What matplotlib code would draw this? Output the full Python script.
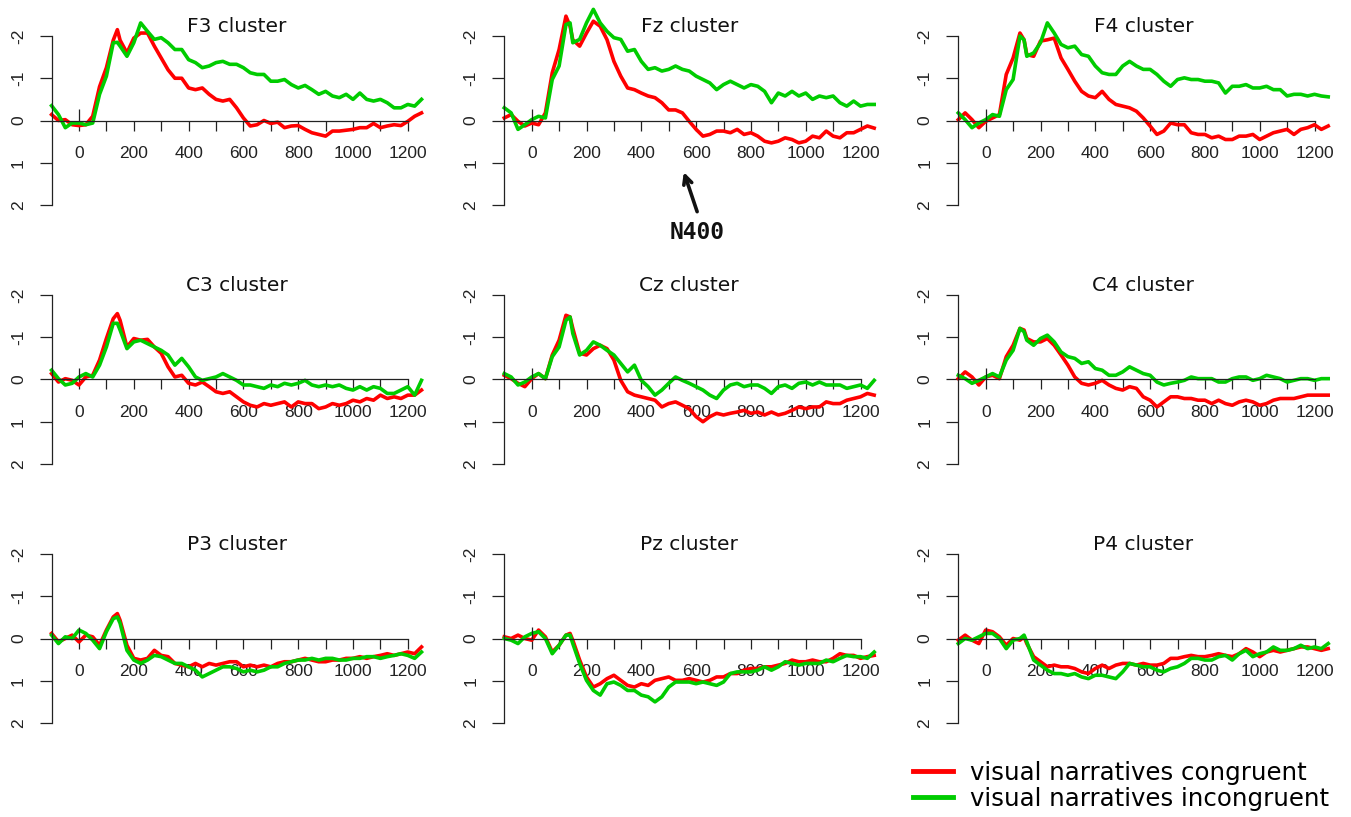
import matplotlib.pyplot as plt
import numpy as np

times = list(range(-100, 126, 25)) + [140] + list(range(150, 1251, 25))

# amplitudes in microvolts (negative plotted up)
f3_con = [-0.14, 0.0, -0.02, 0.1, 0.12, 0.1, -0.1, -0.8, -1.25, -1.9,
          -2.15, -1.9,
          -1.6, -1.95, -2.07, -2.07, -1.76, -1.48, -1.2, -1.0, -1.0, -0.77,
          -0.73, -0.77, -0.62, -0.5, -0.46, -0.5, -0.3, -0.06, 0.13, 0.1,
          0.0, 0.07, 0.04, 0.17, 0.13, 0.12, 0.21, 0.29, 0.33, 0.37,
          0.25, 0.25, 0.23, 0.21, 0.17, 0.17, 0.07, 0.17, 0.13, 0.1,
          0.12, 0.02, -0.1, -0.18]
f3_inc = [-0.35, -0.14, 0.17, 0.06, 0.06, 0.1, 0.06, -0.62, -1.05, -1.84,
          -1.85, -1.76,
          -1.52, -1.84, -2.31, -2.11, -1.92, -1.96, -1.84, -1.68, -1.68, -1.44,
          -1.37, -1.25, -1.29, -1.37, -1.4, -1.33, -1.33, -1.25, -1.13, -1.09,
          -1.09, -0.93, -0.93, -0.97, -0.85, -0.77, -0.83, -0.73, -0.62, -0.69,
          -0.58, -0.54, -0.62, -0.5, -0.65, -0.5, -0.46, -0.5, -0.42, -0.3,
          -0.3, -0.38, -0.34, -0.5]

fz_con = [-0.06, -0.14, 0.02, 0.13, 0.06, 0.1, -0.18, -1.13, -1.68, -2.47,
          -2.23, -1.91,
          -1.76, -2.07, -2.35, -2.23, -1.91, -1.4, -1.05, -0.77, -0.73, -0.65,
          -0.58, -0.54, -0.42, -0.25, -0.25, -0.18, 0.02, 0.21, 0.37, 0.33,
          0.25, 0.25, 0.29, 0.21, 0.33, 0.29, 0.37, 0.49, 0.53, 0.49,
          0.41, 0.45, 0.53, 0.49, 0.37, 0.41, 0.25, 0.37, 0.41, 0.29,
          0.29, 0.21, 0.13, 0.18]
fz_inc = [-0.3, -0.18, 0.21, 0.1, -0.02, -0.1, -0.06, -0.97, -1.29, -2.27,
          -2.31, -1.84,
          -1.92, -2.31, -2.63, -2.31, -2.11, -1.96, -1.92, -1.64, -1.68, -1.4,
          -1.21, -1.25, -1.17, -1.21, -1.29, -1.21, -1.17, -1.05, -0.97, -0.89,
          -0.73, -0.85, -0.93, -0.85, -0.77, -0.85, -0.81, -0.69, -0.42, -0.65,
          -0.58, -0.69, -0.58, -0.65, -0.5, -0.58, -0.54, -0.58, -0.42, -0.34,
          -0.46, -0.34, -0.38, -0.38]

f4_con = [-0.02, -0.18, -0.02, 0.17, 0.02, -0.06, -0.14, -1.09, -1.48, -2.07,
          -1.91, -1.56,
          -1.52, -1.88, -1.91, -1.95, -1.48, -1.21, -0.93, -0.69, -0.58, -0.54,
          -0.69, -0.5, -0.38, -0.34, -0.3, -0.22, -0.06, 0.13, 0.33, 0.25,
          0.06, 0.1, 0.1, 0.29, 0.33, 0.33, 0.41, 0.37, 0.45, 0.45,
          0.37, 0.37, 0.33, 0.45, 0.37, 0.29, 0.25, 0.21, 0.33, 0.21,
          0.17, 0.1, 0.21, 0.13]
f4_inc = [-0.18, -0.02, 0.17, 0.06, -0.02, -0.14, -0.1, -0.73, -0.97, -2.0,
          -1.91, -1.52,
          -1.6, -1.84, -2.31, -2.07, -1.8, -1.72, -1.76, -1.56, -1.52, -1.29,
          -1.13, -1.09, -1.09, -1.29, -1.4, -1.29, -1.21, -1.21, -1.09, -0.93,
          -0.81, -0.97, -1.01, -0.97, -0.97, -0.93, -0.93, -0.89, -0.65, -0.81,
          -0.81, -0.85, -0.77, -0.77, -0.81, -0.73, -0.73, -0.58, -0.62, -0.62,
          -0.58, -0.62, -0.58, -0.56]

c3_con = [-0.14, 0.06, -0.02, 0.02, 0.13, -0.06, -0.1, -0.46, -0.97, -1.44,
          -1.56, -1.4,
          -0.77, -0.97, -0.93, -0.95, -0.77, -0.62, -0.3, -0.06, -0.1, 0.09,
          0.13, 0.06, 0.17, 0.29, 0.33, 0.29, 0.41, 0.53, 0.61, 0.65,
          0.57, 0.61, 0.57, 0.53, 0.65, 0.53, 0.57, 0.57, 0.69, 0.65,
          0.57, 0.61, 0.57, 0.49, 0.53, 0.45, 0.49, 0.37, 0.45, 0.41,
          0.45, 0.37, 0.37, 0.25]
c3_inc = [-0.22, -0.02, 0.13, 0.09, -0.06, -0.14, -0.06, -0.34, -0.77, -1.33,
          -1.33, -1.17,
          -0.73, -0.89, -0.93, -0.85, -0.77, -0.69, -0.58, -0.34, -0.5, -0.3,
          -0.06, 0.02, -0.02, -0.06, -0.14, -0.06, 0.02, 0.13, 0.13, 0.17,
          0.21, 0.13, 0.17, 0.09, 0.13, 0.09, 0.02, 0.13, 0.17, 0.13,
          0.17, 0.13, 0.21, 0.25, 0.17, 0.25, 0.17, 0.21, 0.33, 0.33,
          0.25, 0.17, 0.37, 0.02]

cz_con = [-0.1, -0.02, 0.09, 0.17, -0.02, -0.14, -0.02, -0.58, -0.93, -1.52,
          -1.48, -1.21,
          -0.62, -0.58, -0.73, -0.81, -0.73, -0.46, 0.02, 0.29, 0.37, 0.41,
          0.45, 0.49, 0.65, 0.57, 0.53, 0.61, 0.69, 0.88, 1.0, 0.88,
          0.8, 0.84, 0.8, 0.77, 0.73, 0.8, 0.77, 0.84, 0.77, 0.84,
          0.8, 0.73, 0.65, 0.69, 0.65, 0.65, 0.53, 0.57, 0.57, 0.49,
          0.45, 0.41, 0.33, 0.37]
cz_inc = [-0.14, -0.06, 0.13, 0.06, -0.06, -0.14, -0.02, -0.54, -0.77, -1.4,
          -1.48, -1.09,
          -0.58, -0.69, -0.89, -0.81, -0.69, -0.58, -0.38, -0.18, -0.34, 0.02,
          0.17, 0.37, 0.25, 0.09, -0.06, 0.02, 0.09, 0.17, 0.25, 0.37,
          0.45, 0.25, 0.13, 0.09, 0.17, 0.13, 0.13, 0.21, 0.33, 0.17,
          0.13, 0.21, 0.09, 0.06, 0.13, 0.06, 0.13, 0.13, 0.13, 0.21,
          0.17, 0.13, 0.21, 0.02]

c4_con = [-0.02, -0.18, -0.06, 0.13, -0.06, -0.1, -0.02, -0.54, -0.81, -1.21,
          -1.17, -0.97,
          -0.89, -0.89, -0.97, -0.81, -0.58, -0.34, -0.06, 0.09, 0.13, 0.09,
          0.02, 0.13, 0.21, 0.25, 0.17, 0.21, 0.41, 0.49, 0.65, 0.53,
          0.41, 0.41, 0.45, 0.45, 0.49, 0.49, 0.57, 0.49, 0.57, 0.61,
          0.53, 0.49, 0.53, 0.61, 0.57, 0.49, 0.45, 0.45, 0.45, 0.41,
          0.37, 0.37, 0.37, 0.37]
c4_inc = [-0.1, -0.02, 0.09, 0.02, -0.06, -0.14, -0.06, -0.46, -0.69, -1.21,
          -1.13, -0.93,
          -0.81, -0.97, -1.05, -0.89, -0.65, -0.54, -0.5, -0.38, -0.42, -0.26,
          -0.22, -0.1, -0.1, -0.18, -0.3, -0.22, -0.14, -0.1, 0.06, 0.13,
          0.09, 0.06, 0.02, -0.06, -0.02, -0.02, -0.02, 0.06, 0.06, -0.02,
          -0.06, -0.06, 0.02, -0.02, -0.1, -0.06, -0.02, 0.06, 0.02, -0.02,
          -0.02, 0.02, -0.02, -0.02]

p3_con = [-0.12, 0.08, 0.0, -0.08, 0.08, -0.08, -0.04, 0.16, -0.2, -0.51,
          -0.59, -0.43,
          0.16, 0.47, 0.51, 0.47, 0.28, 0.4, 0.43, 0.59, 0.63, 0.67,
          0.59, 0.67, 0.59, 0.63, 0.59, 0.55, 0.55, 0.67, 0.63, 0.67,
          0.63, 0.67, 0.59, 0.55, 0.55, 0.51, 0.47, 0.51, 0.55, 0.55,
          0.51, 0.51, 0.47, 0.47, 0.43, 0.47, 0.43, 0.4, 0.36, 0.4,
          0.36, 0.32, 0.36, 0.2]
p3_inc = [-0.08, 0.12, -0.04, 0.0, -0.2, -0.12, 0.04, 0.24, -0.16, -0.47,
          -0.51, -0.36,
          0.28, 0.51, 0.59, 0.51, 0.4, 0.43, 0.51, 0.59, 0.59, 0.67,
          0.75, 0.91, 0.83, 0.75, 0.67, 0.67, 0.71, 0.79, 0.75, 0.79,
          0.75, 0.67, 0.67, 0.59, 0.55, 0.51, 0.51, 0.47, 0.51, 0.47,
          0.47, 0.51, 0.51, 0.47, 0.47, 0.43, 0.43, 0.47, 0.43, 0.4,
          0.36, 0.4, 0.47, 0.32]

pz_con = [-0.04, 0.0, -0.08, 0.0, 0.04, -0.2, -0.04, 0.32, 0.16, -0.08,
          -0.12, 0.04,
          0.51, 0.91, 1.15, 1.07, 0.95, 0.87, 0.99, 1.11, 1.15, 1.07,
          1.11, 0.99, 0.95, 0.91, 0.99, 0.99, 0.95, 0.99, 1.03, 0.99,
          0.91, 0.91, 0.83, 0.83, 0.75, 0.71, 0.71, 0.67, 0.67, 0.63,
          0.59, 0.51, 0.55, 0.55, 0.51, 0.55, 0.55, 0.47, 0.36, 0.4,
          0.4, 0.47, 0.43, 0.4]
pz_inc = [0.0, 0.04, 0.12, -0.04, -0.12, -0.16, 0.0, 0.36, 0.16, -0.08,
          -0.08, 0.12,
          0.59, 0.99, 1.23, 1.34, 1.07, 1.03, 1.11, 1.23, 1.23, 1.34,
          1.38, 1.5, 1.38, 1.15, 1.03, 1.03, 1.03, 1.07, 1.03, 1.07,
          1.11, 1.03, 0.83, 0.79, 0.79, 0.79, 0.75, 0.67, 0.75, 0.67,
          0.55, 0.59, 0.63, 0.59, 0.59, 0.59, 0.51, 0.55, 0.47, 0.4,
          0.43, 0.43, 0.47, 0.32]

p4_con = [0.04, -0.08, 0.04, 0.12, -0.2, -0.16, -0.04, 0.16, 0.0, 0.04,
          -0.04, 0.12,
          0.43, 0.55, 0.67, 0.63, 0.67, 0.67, 0.71, 0.79, 0.83, 0.71,
          0.63, 0.71, 0.63, 0.59, 0.59, 0.63, 0.59, 0.63, 0.63, 0.59,
          0.47, 0.47, 0.43, 0.4, 0.43, 0.43, 0.4, 0.36, 0.4, 0.43,
          0.36, 0.24, 0.32, 0.43, 0.32, 0.28, 0.32, 0.28, 0.24, 0.2,
          0.2, 0.24, 0.28, 0.24]
p4_inc = [0.12, 0.0, 0.04, -0.04, -0.12, -0.12, 0.0, 0.24, 0.04, 0.0,
          -0.08, 0.08,
          0.51, 0.63, 0.75, 0.83, 0.83, 0.87, 0.83, 0.91, 0.95, 0.87,
          0.87, 0.91, 0.95, 0.79, 0.59, 0.63, 0.67, 0.67, 0.75, 0.79,
          0.71, 0.67, 0.59, 0.47, 0.47, 0.51, 0.51, 0.43, 0.4, 0.51,
          0.36, 0.28, 0.43, 0.36, 0.32, 0.2, 0.28, 0.28, 0.24, 0.16,
          0.24, 0.2, 0.24, 0.12]

titles = ['F3 cluster', 'Fz cluster', 'F4 cluster',
          'C3 cluster', 'Cz cluster', 'C4 cluster',
          'P3 cluster', 'Pz cluster', 'P4 cluster']
congruent = [f3_con, fz_con, f4_con, c3_con, cz_con, c4_con, p3_con, pz_con, p4_con]
incongruent = [f3_inc, fz_inc, f4_inc, c3_inc, cz_inc, c4_inc, p3_inc, pz_inc, p4_inc]
legend_labels = ['visual narratives congruent', 'visual narratives incongruent']

x_ticks = list(range(0, 1201, 100))
x_ticklabels = [str(t) if t % 200 == 0 else '' for t in x_ticks]
y_ticks = [-2, -1, 0, 1, 2]

RED = '#ff0000'
GREEN = '#00cc00'
INK = '#222222'

W, H = 1351, 817
fig = plt.figure(figsize=(W / 100, H / 100), dpi=100)

# pixel layout of each panel: x=-100 / x=1250 and y=-2 / y=2
col_px = [(51.6, 421.5), (504.3, 874.2), (958.3, 1328.2)]
row_px = [(36, 205), (295, 464), (554, 723)]
ytop, ybot = -2.8, 2.2
ppu = (205 - 36) / 4.0

axes = []
for i in range(9):
    r, c = divmod(i, 3)
    x0, x1 = col_px[c]
    ym2, yp2 = row_px[r]
    top = ym2 - (-2 - ytop) * ppu
    bot = yp2 + (ybot - 2) * ppu
    ax = fig.add_axes([x0 / W, 1 - bot / H, (x1 - x0) / W, (bot - top) / H])
    axes.append(ax)

    l1, = ax.plot(times, congruent[i], color=RED, lw=2.6, clip_on=False)
    l2, = ax.plot(times, incongruent[i], color=GREEN, lw=2.6, clip_on=False)

    ax.set_xlim(-100, 1250)
    ax.set_ylim(ybot, ytop)
    for s in ['top', 'right']:
        ax.spines[s].set_visible(False)
    ax.spines['left'].set_bounds(-2, 2)
    ax.spines['bottom'].set_position(('data', 0))
    ax.spines['bottom'].set_bounds(-100, 1200)
    for s in ['left', 'bottom']:
        ax.spines[s].set_color(INK)
        ax.spines[s].set_linewidth(0.9)
    ax.vlines(0, 0, -0.27, color=INK, lw=0.9)

    ax.set_xticks(x_ticks)
    ax.set_xticklabels(x_ticklabels, fontfamily='Liberation Sans', fontsize=12.5)
    ax.set_yticks(y_ticks)
    ax.set_yticklabels([str(v) for v in y_ticks], rotation=90, va='center',
                       fontfamily='Liberation Sans', fontsize=12.5)
    ax.tick_params(axis='x', direction='out', length=7.2, width=0.9,
                   color=INK, labelcolor=INK, pad=11)
    ax.tick_params(axis='y', direction='out', length=8.5, width=0.9,
                   color=INK, labelcolor=INK, pad=10)
    ax.patch.set_visible(False)

    # title sits about 9 px above the -2 tick
    ax.text(575, -2 - 9 / ppu, titles[i], ha='center', va='center',
            fontsize=14.5, color='#111111')

# N400 marker in the Fz panel
axes[1].annotate('', xy=(552, 1.16), xytext=(607, 2.22),
                 arrowprops=dict(arrowstyle='->, head_length=0.6, head_width=0.3',
                                 lw=2.6, color='#111111'),
                 annotation_clip=False)
axes[1].text(603, 2.65, 'N400', ha='center', va='center', fontsize=16.5,
             fontfamily='DejaVu Sans Mono', fontweight='bold', color='#111111',
             clip_on=False)

leg = fig.legend([l1, l2], legend_labels, loc='upper left',
                 bbox_to_anchor=(913 / W, 1 - 761 / H), frameon=False,
                 fontsize=17.6, handlelength=1.65, handletextpad=0.7,
                 labelspacing=0.08, borderpad=0, borderaxespad=0)
for h in leg.legend_handles:
    h.set_linewidth(3.5)

fig.savefig('out.png', dpi=100)
